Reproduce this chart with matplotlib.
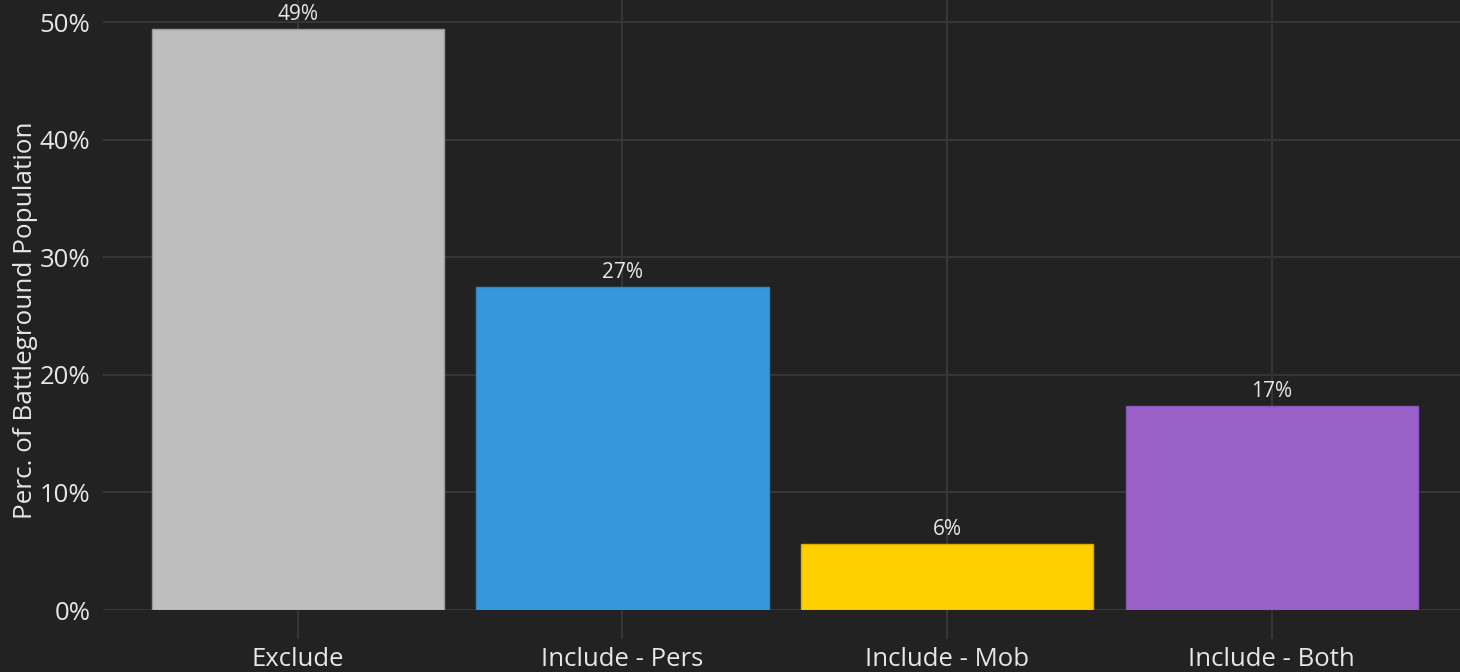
import matplotlib.pyplot as plt

# data
categories = ["Exclude", "Include - Pers", "Include - Mob", "Include - Both"]
values = [49.4, 27.5, 5.6, 17.35]
labels = ["49%", "27%", "6%", "17%"]
colors = ["#BEBEBE", "#3797DB", "#FFCF00", "#9A62C9"]
edges = ["#9A9A9A", "#3088C8", "#D8AF00", "#8A55B8"]
yticks = [0, 10, 20, 30, 40, 50]

bg = "#222222"
grid_c = "#363636"
txt = "#E6E6E6"

plt.rcParams['font.family'] = ['Open Sans', 'DejaVu Sans']

fig = plt.figure(figsize=(14.6, 6.72), dpi=100, facecolor=bg)
ax = fig.add_axes([103 / 1460, 62 / 672, 1 - 103 / 1460, 610 / 672])
ax.set_facecolor(bg)

x = range(len(categories))
bars = ax.bar(x, values, width=0.9, color=colors, edgecolor=edges, linewidth=1, zorder=3)

for xi, v, lab in zip(x, values, labels):
    ax.annotate(lab, (xi, v), xytext=(0, 3), textcoords="offset points",
                ha="center", va="bottom", color=txt, fontsize=15, zorder=4)

ax.set_xlim(-0.6, 3.58)
ax.set_ylim(0, 51.9)
ax.set_xticks(list(x))
ax.set_xticklabels(categories)
ax.set_yticks(yticks)
ax.set_yticklabels([f"{t}%" for t in yticks])

ax.grid(True, color=grid_c, linewidth=1.5, zorder=0)
ax.set_axisbelow(True)
for s in ax.spines.values():
    s.set_visible(False)

ax.tick_params(axis="x", length=21, width=1.5, color=grid_c, labelcolor=txt, labelsize=18.5, pad=6)
ax.tick_params(axis="y", length=0, labelcolor=txt, labelsize=18.5, pad=9)

ax.set_ylabel("Perc. of Battleground Population", color=txt, fontsize=18.8)
ax.yaxis.set_label_coords(-0.048, 0.475)

fig.savefig("out.png", dpi=100, facecolor=bg)
